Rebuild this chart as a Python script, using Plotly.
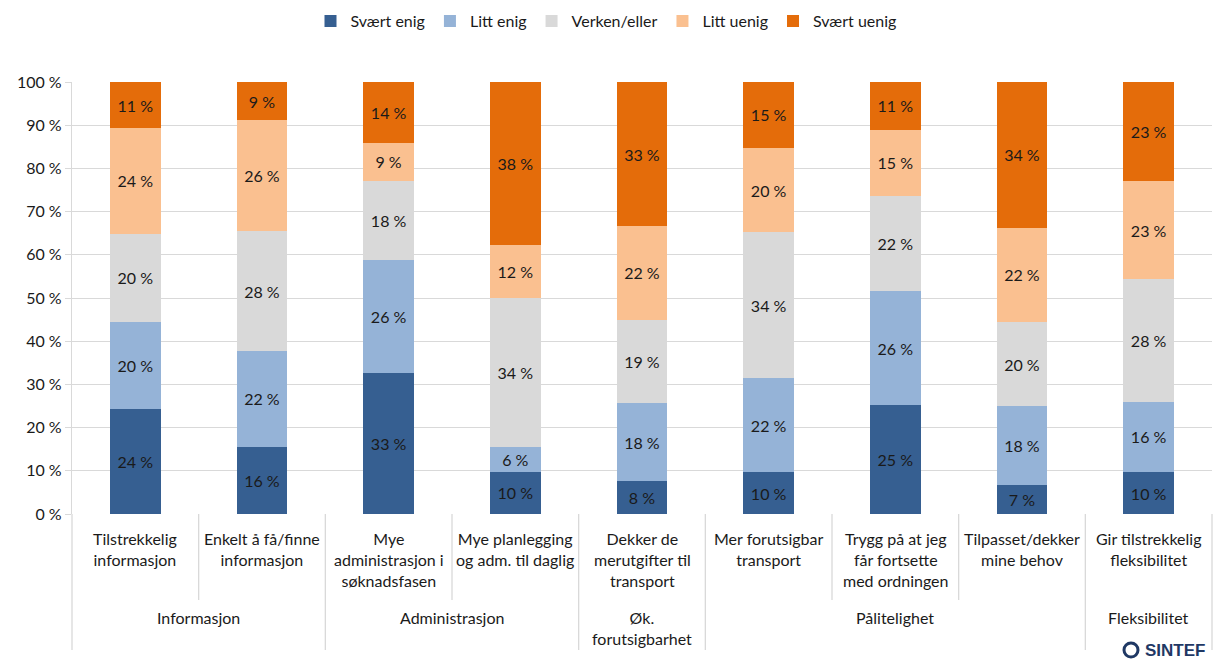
import plotly.graph_objects as go

categories = [
    "Tilstrekkelig<br>informasjon",
    "Enkelt å få/finne<br>informasjon",
    "Mye<br>administrasjon i<br>søknadsfasen",
    "Mye planlegging<br>og adm. til daglig",
    "Dekker de<br>merutgifter til<br>transport",
    "Mer forutsigbar<br>transport",
    "Trygg på at jeg<br>får fortsette<br>med ordningen",
    "Tilpasset/dekker<br>mine behov",
    "Gir tilstrekkelig<br>fleksibilitet",
]
groups = ["Informasjon", "Administrasjon", "Øk.<br>forutsigbarhet", "Pålitelighet", "Fleksibilitet"]
group_sizes = [2, 2, 1, 3, 1]

series_names = ["Svært enig", "Litt enig", "Verken/eller", "Litt uenig", "Svært uenig"]
svaert_enig = [24.4, 15.6, 32.7, 9.8, 7.6, 9.7, 25.2, 6.6, 9.7]
litt_enig = [20.1, 22.1, 26.0, 5.8, 18.0, 21.7, 26.4, 18.3, 16.3]
verken_eller = [20.4, 27.8, 18.4, 34.4, 19.4, 33.8, 22.1, 19.6, 28.3]
litt_uenig = [24.4, 25.6, 8.8, 12.2, 21.6, 19.6, 15.2, 21.8, 22.8]
svaert_uenig = [10.7, 8.9, 14.1, 37.8, 33.4, 15.2, 11.1, 33.7, 22.9]
series_values = [svaert_enig, litt_enig, verken_eller, litt_uenig, svaert_uenig]
colors = ["#365F91", "#95B3D7", "#D9D9D9", "#FAC090", "#E46C0A"]

y_ticks = list(range(0, 101, 10))
y_tick_labels = [f"{v} %" for v in y_ticks]

FONT = "Lato"
TXT = "#1A1A1A"
GRID = "#D9D9D9"

# page offset (default body margin) and figure size
OFF = 8
W, H = 1229 - 2 * OFF, 668 - 2 * OFF
# plot-area edges in screen pixels
L, R, T, B = 72, 1212, 82, 514


def px_x(px):
    return (px - L) / (R - L)


def px_y(py):
    return (B - py) / (B - T)


fig = go.Figure()
xidx = list(range(len(categories)))
for name, vals, col in zip(series_names, series_values, colors):
    fig.add_trace(go.Bar(
        x=xidx, y=vals, name=name,
        marker=dict(color=col, line=dict(width=0)),
        text=[f"{v:.0f} %" for v in vals],
        textposition="inside", insidetextanchor="middle", textangle=0,
        textfont=dict(family=FONT, size=16, color=TXT),
        hoverinfo="skip",
    ))

n = len(categories)
annotations = []
shapes = []
for i, c in enumerate(categories):
    annotations.append(dict(x=i, y=px_y(527), xref="x", yref="paper", text=c,
                            showarrow=False, xanchor="center", yanchor="top",
                            font=dict(family=FONT, size=16, color=TXT)))

start = 0
long_bounds = [0]
for g, s in zip(groups, group_sizes):
    center = start + (s - 1) / 2
    annotations.append(dict(x=center, y=px_y(606), xref="x", yref="paper", text=g,
                            showarrow=False, xanchor="center", yanchor="top",
                            font=dict(family=FONT, size=16, color=TXT)))
    start += s
    long_bounds.append(start)

for k in range(n + 1):
    y1 = 650 if k in long_bounds else 600
    shapes.append(dict(type="line", xref="paper", yref="paper",
                       x0=k / n, x1=k / n, y0=0, y1=px_y(y1),
                       line=dict(color=GRID, width=1.3)))

# SINTEF logo (bottom-right corner, as in the source)
annotations.append(dict(x=px_x(1143), y=px_y(650), xref="paper", yref="paper",
                        text="<b>SINTEF</b>", showarrow=False, xanchor="left", yanchor="middle",
                        font=dict(family="Liberation Sans", size=17, color="#1F3864")))
shapes.append(dict(type="circle", xref="paper", yref="paper",
                   x0=px_x(1124), x1=px_x(1138), y0=px_y(657), y1=px_y(643),
                   line=dict(color="#1F3864", width=3)))

fig.update_layout(
    width=W, height=H,
    margin=dict(l=L - OFF, r=OFF + W - R, t=T - OFF, b=OFF + H - B, autoexpand=False),
    barmode="stack", bargap=0.6,
    paper_bgcolor="white", plot_bgcolor="white",
    font=dict(family=FONT, size=16, color=TXT),
    uniformtext=dict(minsize=16, mode="show"),
    legend=dict(orientation="h", x=px_x(606), xanchor="center", y=px_y(21), yanchor="middle",
                font=dict(family=FONT, size=16, color=TXT), traceorder="normal",
                itemclick=False, itemdoubleclick=False),
    xaxis=dict(range=[-0.5, n - 0.5], showticklabels=False, showgrid=False, zeroline=False,
               showline=False, ticks="", fixedrange=True),
    yaxis=dict(range=[0, 100], tickmode="array", tickvals=y_ticks, ticktext=y_tick_labels,
               showgrid=True, gridcolor=GRID, gridwidth=1.3, zeroline=False,
               showline=True, linecolor=GRID, linewidth=1.3,
               ticks="outside", ticklen=6, tickcolor=GRID,
               tickfont=dict(family=FONT, size=16, color=TXT), fixedrange=True),
    annotations=annotations, shapes=shapes,
)

fig.write_html("out.html")
